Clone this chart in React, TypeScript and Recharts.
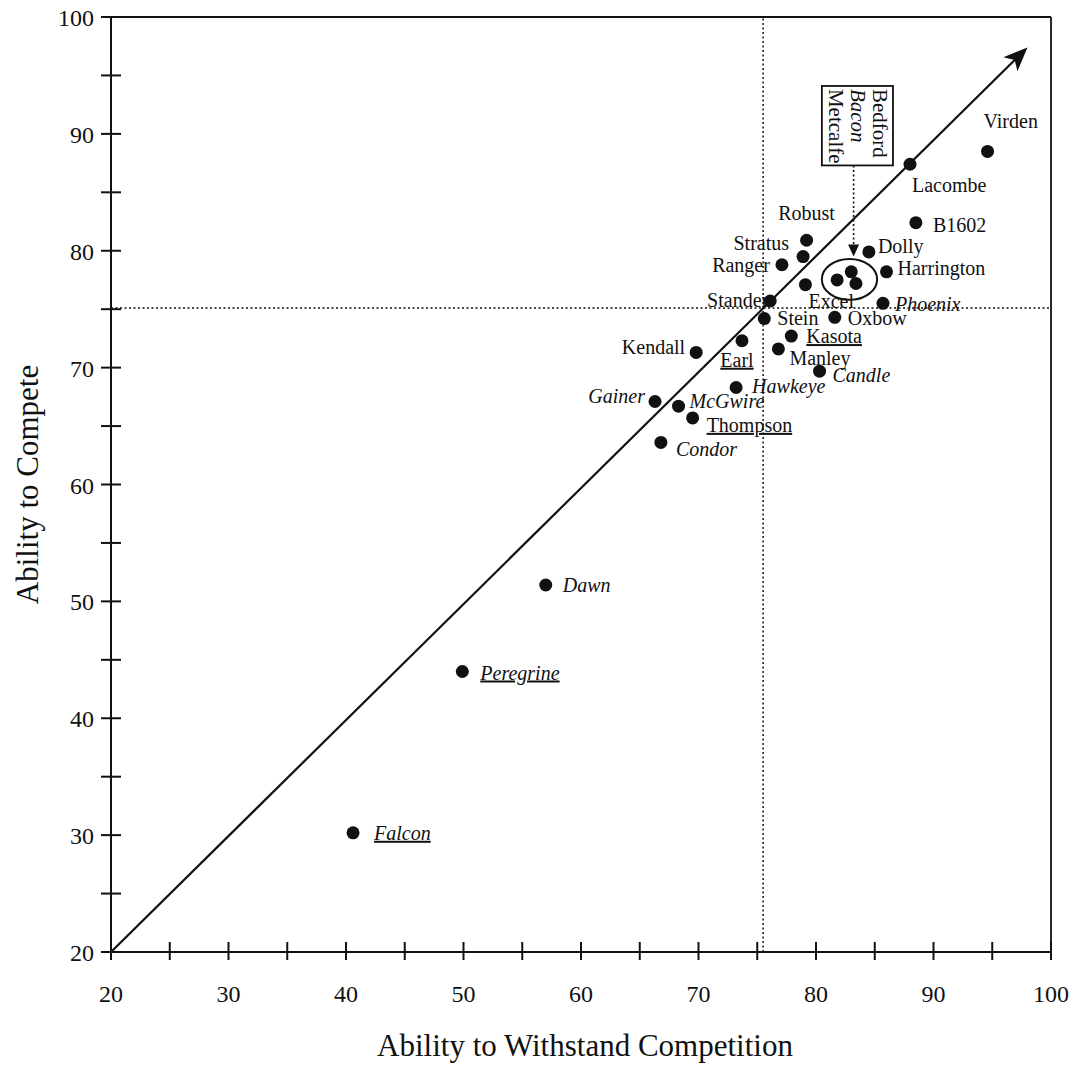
import React from "react"
import { ScatterChart, Scatter, XAxis, YAxis, ReferenceLine, ReferenceArea } from "recharts"

// cultivars
const cultivars = [
  "Virden", "Lacombe", "B1602", "Robust", "Stratus", "Ranger", "Dolly", "Harrington",
  "Bedford", "Bacon", "Metcalfe", "Excel", "Stander", "Phoenix", "Stein", "Oxbow",
  "Kasota", "Earl", "Kendall", "Manley", "Candle", "Hawkeye", "Gainer", "McGwire",
  "Thompson", "Condor", "Dawn", "Peregrine", "Falcon",
]
const withstand = [
  94.6, 88.0, 88.5, 79.2, 78.9, 77.1, 84.5, 86.0,
  83.0, 81.8, 83.4, 79.1, 76.1, 85.7, 75.6, 81.6,
  77.9, 73.7, 69.8, 76.8, 80.3, 73.2, 66.3, 68.3,
  69.5, 66.8, 57.0, 49.9, 40.6,
]
const compete = [
  88.5, 87.4, 82.4, 80.9, 79.5, 78.8, 79.9, 78.2,
  78.2, 77.5, 77.2, 77.1, 75.7, 75.5, 74.2, 74.3,
  72.7, 72.3, 71.3, 71.6, 69.7, 68.3, 67.1, 66.7,
  65.7, 63.6, 51.4, 44.0, 30.2,
]
const boxNames = ["Bedford", "Bacon", "Metcalfe"]

const axisTicks = [20, 25, 30, 35, 40, 45, 50, 55, 60, 65, 70, 75, 80, 85, 90, 95, 100]
const meanWithstand = 75.5
const meanCompete = 75.1
const arrowTip = { x: 98, y: 97.4 }

const italicNames = ["Phoenix", "Candle", "Hawkeye", "Gainer", "McGwire", "Condor", "Dawn", "Peregrine", "Falcon", "Bacon"]
const underlinedNames = ["Kasota", "Earl", "Thompson", "Peregrine", "Falcon"]

const FONT = "'Liberation Serif', 'Times New Roman', Times, serif"
const INK = "#111"

// label placement relative to the dot: [dx, dy(baseline), anchor]
const labelAt: Record<string, [number, number, "start" | "middle" | "end"]> = {
  Virden: [-4, -23, "start"],
  Lacombe: [2, 28, "start"],
  B1602: [17, 9, "start"],
  Robust: [0, -20, "middle"],
  Stratus: [-14, -7, "end"],
  Ranger: [-12, 7, "end"],
  Dolly: [9, 1, "start"],
  Harrington: [11, 3, "start"],
  Excel: [3, 23, "start"],
  Stander: [-2, 6, "end"],
  Phoenix: [12, 8, "start"],
  Stein: [13, 6, "start"],
  Oxbow: [13, 8, "start"],
  Kasota: [15, 7, "start"],
  Earl: [-5, 26, "middle"],
  Kendall: [-11, 2, "end"],
  Manley: [11, 16, "start"],
  Candle: [13, 11, "start"],
  Hawkeye: [16, 6, "start"],
  Gainer: [-10, 1, "end"],
  McGwire: [11, 2, "start"],
  Thompson: [14, 14, "start"],
  Condor: [15, 14, "start"],
  Dawn: [17, 7, "start"],
  Peregrine: [18, 8, "start"],
  Falcon: [21, 7, "start"],
}

const points = cultivars.map((name, i) => ({ name, x: withstand[i], y: compete[i] }))

function Dot(props: any) {
  const { cx, cy, payload } = props
  const place = boxNames.includes(payload.name) ? null : labelAt[payload.name]
  return (
    <g>
      <circle cx={cx} cy={cy} r={6.5} fill={INK} />
      {place && (
        <text
          x={cx + place[0]}
          y={cy + place[1]}
          textAnchor={place[2]}
          fontFamily={FONT}
          fontSize={20}
          fill={INK}
          fontStyle={italicNames.includes(payload.name) ? "italic" : "normal"}
          textDecoration={underlinedNames.includes(payload.name) ? "underline" : undefined}
        >
          {payload.name}
        </text>
      )}
    </g>
  )
}

function XTick(props: any) {
  const { x, y, payload } = props
  return (
    <g>
      <line x1={x} x2={x} y1={y - 10} y2={y + 8} stroke={INK} strokeWidth={2} />
      {payload.value % 10 === 0 && (
        <text x={x} y={y + 50} textAnchor="middle" fontFamily={FONT} fontSize={24} fill={INK}>
          {payload.value}
        </text>
      )}
    </g>
  )
}

function YTick(props: any) {
  const { x, y, payload } = props
  return (
    <g>
      <line x1={x - 10} x2={x + 10} y1={y} y2={y} stroke={INK} strokeWidth={2} />
      {payload.value % 10 === 0 && (
        <text x={x - 17} y={y + 9} textAnchor="end" fontFamily={FONT} fontSize={24} fill={INK}>
          {payload.value}
        </text>
      )}
    </g>
  )
}

function Diagonal(props: any) {
  const { x1, y1, x2, y2 } = props
  const ang = Math.atan2(y2 - y1, x2 - x1)
  const len = 24
  const half = 10
  const bx = x2 - len * Math.cos(ang)
  const by = y2 - len * Math.sin(ang)
  const nx = -Math.sin(ang) * half
  const ny = Math.cos(ang) * half
  const notchX = x2 - len * 0.75 * Math.cos(ang)
  const notchY = y2 - len * 0.75 * Math.sin(ang)
  return (
    <g>
      <line x1={x1} y1={y1} x2={notchX} y2={notchY} stroke={INK} strokeWidth={2.2} />
      <polygon points={`${x2},${y2} ${bx + nx},${by + ny} ${notchX},${notchY} ${bx - nx},${by - ny}`} fill={INK} />
    </g>
  )
}

function Pointer(props: any) {
  const { x1, y1, x2, y2 } = props
  return (
    <g>
      <line x1={x1} y1={y1} x2={x2} y2={y2 - 10} stroke={INK} strokeWidth={1.6} strokeDasharray="2 2.5" />
      <polygon points={`${x2},${y2} ${x2 - 5.5},${y2 - 12} ${x2 + 5.5},${y2 - 12}`} fill={INK} />
    </g>
  )
}

function NameBox(props: any) {
  const { x, y, width, height } = props
  return (
    <g>
      <rect x={x} y={y} width={width} height={height} fill="#fff" stroke={INK} strokeWidth={1.8} />
      {boxNames.map((n, i) => {
        const bx = x + width - 20 - i * 22
        const by = y + 3
        return (
          <text
            key={n}
            x={bx}
            y={by}
            transform={`rotate(90 ${bx} ${by})`}
            fontFamily={FONT}
            fontSize={21}
            fill={INK}
            fontStyle={italicNames.includes(n) ? "italic" : "normal"}
          >
            {n}
          </text>
        )
      })}
    </g>
  )
}

function Ring(props: any) {
  const { x, y, width, height } = props
  return (
    <ellipse cx={x + width / 2} cy={y + height / 2} rx={width / 2} ry={height / 2} fill="none" stroke={INK} strokeWidth={2} />
  )
}

export default function App() {
  return (
    <div style={{ position: "absolute", left: 0, top: 0, width: 1077, height: 1068, background: "#fff" }}>
      <ScatterChart width={1077} height={1068} margin={{ top: 17, right: 26, bottom: 0, left: 0 }}>
        <XAxis
          type="number"
          dataKey="x"
          domain={[20, 100]}
          ticks={axisTicks}
          interval={0}
          height={116}
          tickSize={0}
          tickMargin={0}
          tickLine={false}
          tick={XTick}
          axisLine={{ stroke: INK, strokeWidth: 2 }}
          label={{
            content: (p: any) => (
              <text
                x={p.viewBox.x + p.viewBox.width / 2 + 4}
                y={p.viewBox.y + 104}
                textAnchor="middle"
                fontFamily={FONT}
                fontSize={31}
                fill={INK}
              >
                Ability to Withstand Competition
              </text>
            ),
          }}
        />
        <YAxis
          type="number"
          dataKey="y"
          domain={[20, 100]}
          ticks={axisTicks}
          interval={0}
          width={111}
          tickSize={0}
          tickMargin={0}
          tickLine={false}
          tick={YTick}
          axisLine={{ stroke: INK, strokeWidth: 2 }}
          label={{
            content: (p: any) => {
              const cx = 38
              const cy = p.viewBox.y + p.viewBox.height / 2
              return (
                <text
                  x={cx}
                  y={cy}
                  transform={`rotate(-90 ${cx} ${cy})`}
                  textAnchor="middle"
                  fontFamily={FONT}
                  fontSize={31}
                  fill={INK}
                >
                  Ability to Compete
                </text>
              )
            },
          }}
        />
        <ReferenceLine y={100} stroke={INK} strokeWidth={1.8} />
        <ReferenceLine x={100} stroke={INK} strokeWidth={1.8} />
        <ReferenceLine x={meanWithstand} stroke={INK} strokeWidth={1.5} strokeDasharray="2 2.5" />
        <ReferenceLine y={meanCompete} stroke={INK} strokeWidth={1.5} strokeDasharray="2 2.5" />
        <ReferenceLine segment={[{ x: 20, y: 20 }, arrowTip]} shape={Diagonal} />
        <ReferenceArea x1={80.5} x2={86.55} y1={87.3} y2={94.1} shape={NameBox} />
        <ReferenceLine segment={[{ x: 83.2, y: 87.3 }, { x: 83.2, y: 79.5 }]} shape={Pointer} />
        <ReferenceArea x1={80.5} x2={85.2} y1={75.8} y2={79.3} shape={Ring} />
        <Scatter data={points} shape={Dot} isAnimationActive={false} />
      </ScatterChart>
    </div>
  )
}
